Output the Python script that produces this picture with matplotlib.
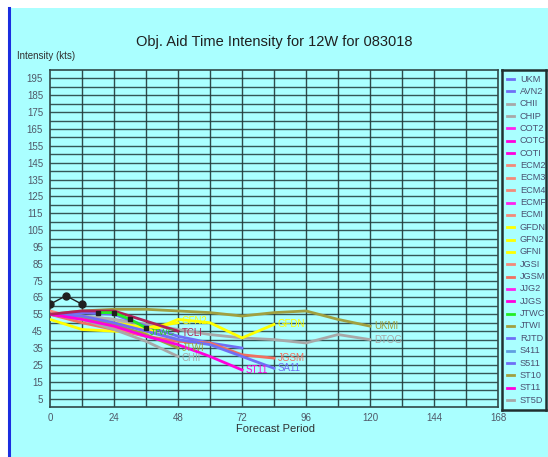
import matplotlib.pyplot as plt

plt.rcParams['font.family'] = ['Liberation Sans', 'DejaVu Sans']

# forecast hours
hrs = [0, 12, 24, 36, 48, 60, 72, 84, 96, 108, 120]

# aid intensities (kts)
ukmi = [55, 57, 58, 58, 57, 56, 54, 56, 57, 52, 48]
dtog = [55, 54, 52, 49, 46, 43, 41, 40, 38, 43, 40]
gfdn = [52, 46, 45, 44, 52, 50, 41, 49]
jgsm = [55, 50, 46, 42, 39, 38, 31, 29]
sa11 = [55, 54, 50, 45, 40, 37, 30, 23]
st11 = [55, 52, 48, 42, 37, 30, 22]
tcli = [55, 57, 57, 51, 45]
chii = [55, 52, 46, 39, 30]
ecmi = [57, 52, 47, 42]
gfn2 = [55, 53, 50, 47, 50]
jtwi = [55, 53, 49, 43, 35]
ukm = [55, 56, 55, 48, 42, 38, 35]
st5d = [55, 54, 52, 46, 40]

# JTWC official forecast and best track
jtwc_hrs = [18, 24, 30, 36]
jtwc = [56, 56, 52, 47]
bt_hrs = [0, 6, 12]
bt = [61, 66, 61]

# legend entries
aid_names = ["UKM", "AVN2", "CHII", "CHIP", "COT2", "COTC", "COTI", "ECM2", "ECM3",
             "ECM4", "ECMF", "ECMI", "GFDN", "GFN2", "GFNI", "JGSI", "JGSM", "JJG2",
             "JJGS", "JTWC", "JTWI", "RJTD", "S411", "S511", "ST10", "ST11", "ST5D"]
aid_colors = ["#6f6ff5", "#6f6ff5", "#a8a8a8", "#a8a8a8", "#ff22ee", "#ff00dd", "#ff00dd",
              "#f48a7a", "#f48a7a", "#f48a7a", "#ff22ee", "#f48a7a", "#ffff00", "#ffff00",
              "#ffff00", "#f48a7a", "#f07060", "#ff22ee", "#ff00dd", "#22ee22", "#a0a040",
              "#6f6ff5", "#5f9fe0", "#6f6ff5", "#a0a040", "#ff00dd", "#a8a8a8"]

BG = "#aaffff"
GRID = "#203838"

fig = plt.figure(figsize=(5.48, 4.57), dpi=100)
fig.patch.set_facecolor("white")

# cyan panel with blue left border, behind everything
bg = fig.add_axes([0, 0, 1, 1], zorder=-10)
bg.set_xlim(0, 548)
bg.set_ylim(457, 0)
bg.axis("off")
bg.add_patch(plt.Rectangle((10, 8), 540, 450, facecolor=BG, edgecolor="none"))
bg.plot([9, 9], [8, 457], color="#1a2ee0", lw=2.2)

ax = fig.add_axes([50 / 548, 50 / 457, 448 / 548, 337 / 457])
ax.set_facecolor(BG)
ax.set_xlim(0, 168)
ax.set_ylim(0, 200)

for y in range(5, 200, 5):
    ax.axhline(y, color=GRID, lw=1.0, alpha=0.85, zorder=1)
for x in range(12, 168, 12):
    ax.axvline(x, color=GRID, lw=1.0, alpha=0.9, zorder=1)
for s in ax.spines.values():
    s.set_color("#304848")
    s.set_linewidth(1.2)

ax.set_xticks(range(0, 169, 24))
ax.set_yticks(range(5, 200, 10))
ax.tick_params(length=0, labelsize=7, colors="#505868")
ax.tick_params(axis="y", pad=5)
ax.tick_params(axis="x", pad=4)

lw = 2.0
series = [
    (hrs, ukmi, "#a0a040", "UKMI", 0),
    (hrs, dtog, "#a8a8a8", "DTOG", 0),
    (hrs[:len(st5d)], st5d, "#b0b0b0", None, 0),
    (hrs[:len(ukm)], ukm, "#6f6ff5", None, 0),
    (hrs[:len(gfdn)], gfdn, "#ffff00", "GFDN", 0),
    (hrs[:len(gfn2)], gfn2, "#ffff00", "GFN2", 1),
    (hrs[:len(jgsm)], jgsm, "#f07060", "JGSM", 0),
    (hrs[:len(ecmi)], ecmi, "#f48a7a", None, 0),
    (hrs[:len(jtwi)], jtwi, "#a0a040", "JTWI", 0),
    (hrs[:len(chii)], chii, "#a8a8a8", "CHII", -1),
    (hrs[:len(sa11)], sa11, "#6f6ff5", "SA11", 0),
    (hrs[:len(st11)], st11, "#ff00dd", "ST11", 0),
    (hrs[:len(tcli)], tcli, "#b0205a", "TCLI", -1),
]
for t, v, c, name, dy in series:
    ax.plot(t, v, color=c, lw=lw, zorder=3)
    if name:
        ax.text(t[-1] + 1.5, v[-1] + dy, name, color=c, fontsize=7, va="center",
                ha="left", zorder=4)

ax.plot(jtwc_hrs, jtwc, color="#22ee22", lw=lw, marker="s", ms=3.5,
        mfc="#202020", mec="#202020", zorder=5)
ax.text(jtwc_hrs[-1] + 1.5, jtwc[-1] - 2.5, "JTWC", color="#22cc22", fontsize=6.5,
        va="center", zorder=4)
ax.plot(bt_hrs, bt, color="#202020", lw=1.0, marker="o", ms=5, zorder=6)

fig.text(274 / 548, 1 - 42 / 457, "Obj. Aid Time Intensity for 12W for 083018",
         ha="center", va="center", fontsize=10.5, color="#202020")
fig.text(17 / 548, 1 - 56 / 457, "Intensity (kts)", ha="left", va="center",
         fontsize=7, color="#303030")
fig.text(275 / 548, 1 - 429 / 457, "Forecast Period", ha="center", va="center",
         fontsize=8, color="#303030")

# legend panel
lg = fig.add_axes([502 / 548, 47 / 457, 44 / 548, 340 / 457])
lg.set_facecolor(BG)
lg.set_xlim(0, 44)
lg.set_ylim(340, 0)
lg.set_xticks([])
lg.set_yticks([])
for s in lg.spines.values():
    s.set_color("#203030")
    s.set_linewidth(1.8)
for i, (name, c) in enumerate(zip(aid_names, aid_colors)):
    y = 9 + i * 12.35
    lg.plot([5, 12], [y, y], color=c, lw=2)
    lg.text(18, y, name, fontsize=6.6, color="#4a5070", va="center", ha="left")

fig.savefig("out.png", dpi=100)
